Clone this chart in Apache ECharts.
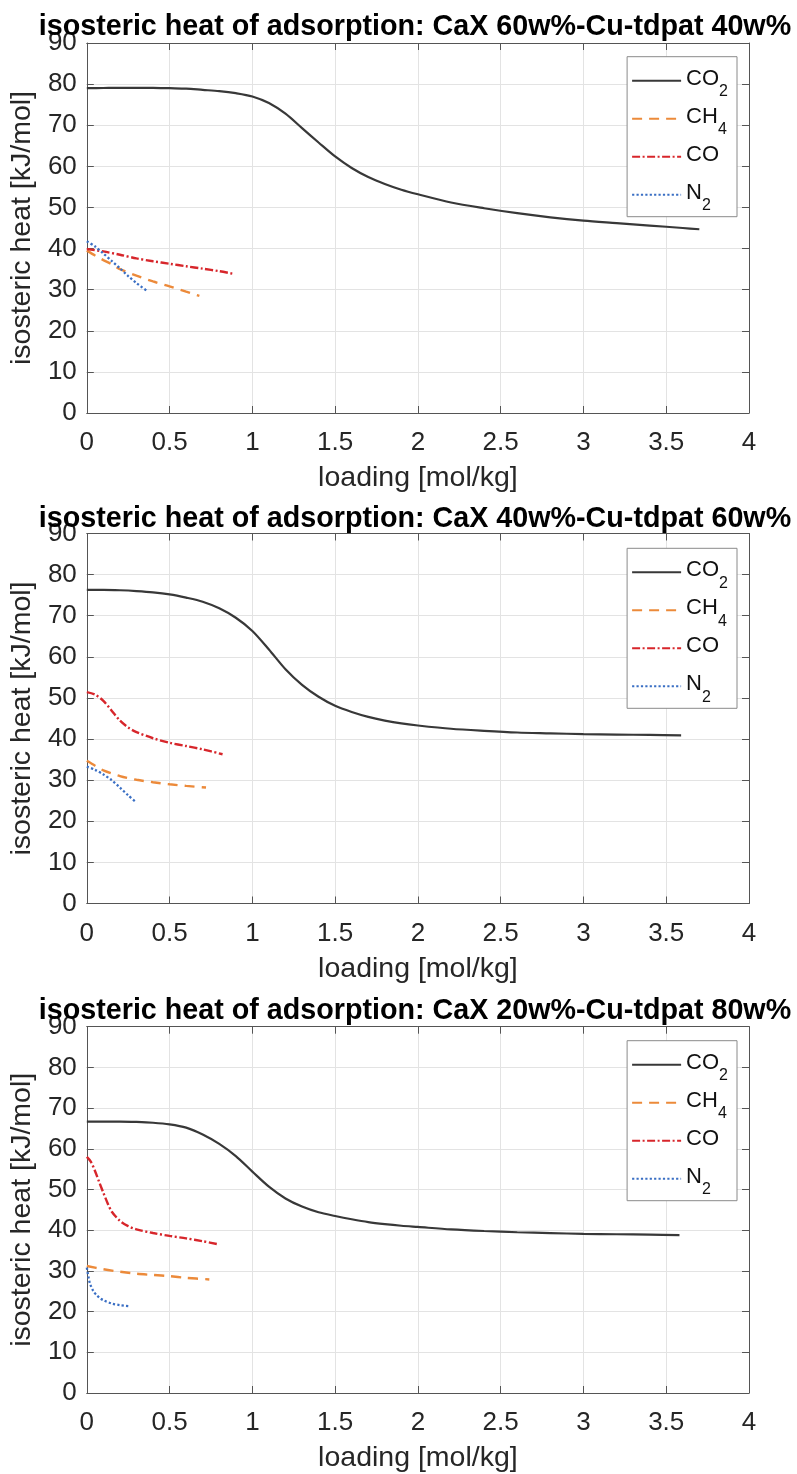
<!DOCTYPE html>
<html>
<head>
<meta charset="utf-8">
<script src="https://cdn.jsdelivr.net/npm/echarts@6/dist/echarts.min.js"></script>
<style>
html,body{margin:0;padding:0;background:#fff;}
#c{width:797px;height:1474px;}
</style>
</head>
<body>
<div id="c"></div>
<script>
// ---------- data ----------
const titles = [
  'isosteric heat of adsorption: CaX 60w%-Cu-tdpat 40w%',
  'isosteric heat of adsorption: CaX 40w%-Cu-tdpat 60w%',
  'isosteric heat of adsorption: CaX 20w%-Cu-tdpat 80w%'
];
const seriesNames = ['CO2', 'CH4', 'CO', 'N2'];
const xTicks = [0, 0.5, 1, 1.5, 2, 2.5, 3, 3.5, 4];
const yTicks = [0, 10, 20, 30, 40, 50, 60, 70, 80, 90];

// Panel 1: CaX 60w% - Cu-tdpat 40w%
const p1_co2_x = [0,0.1,0.2,0.3,0.4,0.5,0.6,0.7,0.8,0.9,1.0,1.1,1.2,1.3,1.4,1.5,1.6,1.7,1.8,1.9,2.0,2.2,2.4,2.6,2.8,3.0,3.2,3.4,3.6,3.7];
const p1_co2_y = [79,79.05,79.1,79.1,79.1,79.0,78.9,78.6,78.3,77.8,77.0,75.4,72.8,69.3,65.8,62.4,59.6,57.4,55.7,54.3,53.2,51.2,49.8,48.6,47.6,46.8,46.2,45.6,45.0,44.7];
const p1_ch4_x = [0,0.05,0.1,0.15,0.2,0.3,0.4,0.5,0.6,0.68];
const p1_ch4_y = [39.5,38.3,37.2,36.2,35.0,33.4,32.0,30.8,29.5,28.5];
const p1_co_x = [0,0.1,0.2,0.3,0.4,0.5,0.6,0.7,0.8,0.88];
const p1_co_y = [39.9,39.3,38.5,37.6,36.9,36.3,35.7,35.1,34.5,33.9];
const p1_n2_x = [0,0.05,0.1,0.15,0.2,0.25,0.3,0.36];
const p1_n2_y = [41.8,40.5,38.8,37.0,35.2,33.3,31.6,29.8];

// Panel 2: CaX 40w% - Cu-tdpat 60w%
const p2_co2_x = [0,0.1,0.2,0.3,0.4,0.5,0.6,0.7,0.8,0.9,1.0,1.1,1.2,1.3,1.4,1.5,1.6,1.7,1.8,1.9,2.0,2.2,2.4,2.6,2.8,3.0,3.2,3.4,3.59];
const p2_co2_y = [76.3,76.3,76.2,76.0,75.7,75.2,74.4,73.4,71.8,69.5,66.3,61.8,57.0,53.2,50.3,48.1,46.6,45.4,44.5,43.8,43.3,42.5,42.0,41.6,41.4,41.2,41.1,41.0,40.9];
const p2_ch4_x = [0,0.05,0.1,0.2,0.3,0.4,0.5,0.6,0.72];
const p2_ch4_y = [34.7,33.5,32.4,31.0,30.1,29.5,29.0,28.6,28.2];
const p2_co_x = [0,0.05,0.1,0.15,0.2,0.25,0.3,0.4,0.5,0.6,0.7,0.82];
const p2_co_y = [51.4,50.8,49.3,46.9,44.5,42.8,41.7,40.2,39.1,38.3,37.5,36.3];
const p2_n2_x = [0,0.05,0.1,0.15,0.2,0.25,0.29];
const p2_n2_y = [33.3,32.5,31.4,30.0,28.2,26.3,24.9];

// Panel 3: CaX 20w% - Cu-tdpat 80w%
const p3_co2_x = [0,0.1,0.2,0.3,0.4,0.5,0.6,0.7,0.8,0.9,1.0,1.1,1.2,1.3,1.4,1.5,1.6,1.7,1.8,1.9,2.0,2.2,2.4,2.6,2.8,3.0,3.2,3.4,3.58];
const p3_co2_y = [66.7,66.7,66.7,66.6,66.4,66.0,65.2,63.5,61.2,58.2,54.4,50.7,47.8,45.8,44.4,43.5,42.7,42.0,41.5,41.1,40.8,40.2,39.8,39.5,39.3,39.1,39.0,38.9,38.8];
const p3_ch4_x = [0,0.1,0.2,0.3,0.4,0.5,0.6,0.74];
const p3_ch4_y = [31.2,30.4,29.8,29.3,29.0,28.7,28.3,27.9];
const p3_co_x = [0,0.025,0.05,0.075,0.1,0.125,0.15,0.2,0.25,0.3,0.4,0.5,0.6,0.7,0.8];
const p3_co_y = [58.0,56.8,54.5,51.8,49.2,46.7,44.6,42.3,41.0,40.2,39.3,38.6,38.0,37.3,36.5];
const p3_n2_x = [0,0.01,0.02,0.04,0.06,0.08,0.1,0.15,0.2,0.26];
const p3_n2_y = [30.8,28.5,26.8,25.0,24.0,23.3,22.8,22.0,21.6,21.3];

const panels = [
  [[p1_co2_x,p1_co2_y],[p1_ch4_x,p1_ch4_y],[p1_co_x,p1_co_y],[p1_n2_x,p1_n2_y]],
  [[p2_co2_x,p2_co2_y],[p2_ch4_x,p2_ch4_y],[p2_co_x,p2_co_y],[p2_n2_x,p2_n2_y]],
  [[p3_co2_x,p3_co2_y],[p3_ch4_x,p3_ch4_y],[p3_co_x,p3_co_y],[p3_n2_x,p3_n2_y]]
];

// ---------- style ----------
const FONT = 'Liberation Sans, Arial, Helvetica, sans-serif';
const colors = ['#383838', '#ec8a3a', '#d7262b', '#3a6fc4'];
const dashes = ['solid', [10, 7], [8, 2.5, 2, 2.5], [2.2, 2.2]];
const widths = [2.2, 2.4, 2.4, 2.3];
const gridTops = [43, 533.5, 1026.7];
const gridH = 370;
const gridLeft = 81, gridW = 668;
const titleTops = [12.5, 505, 997];
const legendTops = [56.7, 548.3, 1040.7];
const axisColor = '#555555';
const labelColor = '#262626';

const option = {
  backgroundColor: '#fff',
  animation: false,
  title: [], grid: [], xAxis: [], yAxis: [], legend: [], series: []
};

panels.forEach((panel, i) => {
  option.title.push({
    text: titles[i],
    left: gridLeft + gridW / 2,
    textAlign: 'center',
    top: titleTops[i],
    padding: 0,
    textStyle: {fontFamily: FONT, fontSize: 28.7, fontWeight: 'bold', color: '#000'}
  });
  option.grid.push({left: gridLeft, top: gridTops[i], width: gridW, height: gridH, containLabel: false});
  // bottom x
  option.xAxis.push({
    gridIndex: i, type: 'value', min: 0, max: 4, interval: 0.5, position: 'bottom',
    name: 'loading [mol/kg]', nameLocation: 'middle', nameGap: 51,
    nameTextStyle: {fontFamily: FONT, fontSize: 28.5, color: labelColor},
    axisLine: {show: true, onZero: false, lineStyle: {color: axisColor, width: 1}},
    axisTick: {show: true, inside: true, length: 7, lineStyle: {color: axisColor}},
    axisLabel: {fontFamily: FONT, fontSize: 26, color: labelColor, margin: 17},
    splitLine: {show: true, lineStyle: {color: '#e3e3e3', width: 1}}
  });
  // top x
  option.xAxis.push({
    gridIndex: i, type: 'value', min: 0, max: 4, interval: 0.5, position: 'top',
    axisLine: {show: true, onZero: false, lineStyle: {color: axisColor, width: 1}},
    axisTick: {show: true, inside: true, length: 7, lineStyle: {color: axisColor}},
    axisLabel: {show: false}, splitLine: {show: false}
  });
  // left y
  option.yAxis.push({
    gridIndex: i, type: 'value', min: 0, max: 90, interval: 10, position: 'left',
    name: 'isosteric heat [kJ/mol]', nameLocation: 'middle', nameGap: 45, nameRotate: 90,
    nameTextStyle: {fontFamily: FONT, fontSize: 28.5, color: labelColor},
    axisLine: {show: true, onZero: false, lineStyle: {color: axisColor, width: 1}},
    axisTick: {show: true, inside: true, length: 7, lineStyle: {color: axisColor}},
    axisLabel: {fontFamily: FONT, fontSize: 26, color: labelColor, margin: 10},
    splitLine: {show: true, lineStyle: {color: '#e3e3e3', width: 1}}
  });
  // right y
  option.yAxis.push({
    gridIndex: i, type: 'value', min: 0, max: 90, interval: 10, position: 'right',
    axisLine: {show: true, onZero: false, lineStyle: {color: axisColor, width: 1}},
    axisTick: {show: true, inside: true, length: 7, lineStyle: {color: axisColor}},
    axisLabel: {show: false}, splitLine: {show: false}
  });
  option.legend.push({
    data: seriesNames,
    orient: 'vertical',
    right: 60,
    top: legendTops[i],
    padding: [11, 9, 3, 4],
    itemGap: 6,
    itemWidth: 49,
    itemHeight: 14,
    selectedMode: false,
    backgroundColor: '#fff',
    borderColor: '#8a8a8a',
    borderWidth: 1,
    borderRadius: 0,
    z: 10,
    itemStyle: {opacity: 0, borderWidth: 0},
    formatter: function (name) {
      if (name === 'CO2') return '{n|CO}{s|2}';
      if (name === 'CH4') return '{n|CH}{s|4}';
      if (name === 'N2') return '{n|N}{s|2}';
      return '{n|' + name + '}{e| }';
    },
    textStyle: {
      fontFamily: FONT, color: '#111',
      rich: {
        n: {fontFamily: FONT, fontSize: 22, lineHeight: 26, verticalAlign: 'top', color: '#111'},
        s: {fontFamily: FONT, fontSize: 16, lineHeight: 16, padding: [16, 0, 0, 0], verticalAlign: 'top', color: '#111'},
        e: {fontFamily: FONT, fontSize: 16, lineHeight: 16, padding: [16, 0, 0, 0], verticalAlign: 'top', width: 1}
      }
    }
  });
  panel.forEach((s, k) => {
    const xs = s[0], ys = s[1];
    option.series.push({
      name: seriesNames[k],
      type: 'line',
      xAxisIndex: 2 * i,
      yAxisIndex: 2 * i,
      data: xs.map((x, j) => [x, ys[j]]),
      showSymbol: false,
      symbol: 'none',
      smooth: 0.3,
      color: colors[k],
      lineStyle: {color: colors[k], width: widths[k], type: dashes[k]},
      z: 3
    });
  });
});

const chart = echarts.init(document.getElementById('c'), null, {renderer: 'canvas'});
chart.setOption(option);
</script>
</body>
</html>
